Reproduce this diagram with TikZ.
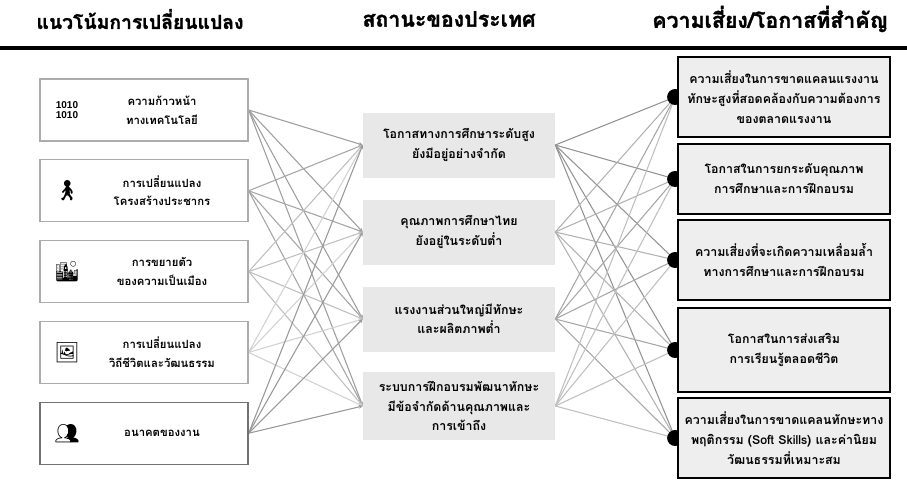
\documentclass[tikz,border=0pt]{standalone}
\usepackage{fontspec}
\setmainfont{Liberation Sans}
\newfontfamily\thaifont[Script=Thai]{Loma}
\newfontfamily\headfont[Script=Thai, BoldFeatures={FakeBold=1.5}]{Loma}
\newfontfamily\emojifont{Noto Emoji}
\usetikzlibrary{positioning, arrows.meta}
\pgfdeclarelayer{background}
\pgfsetlayers{background,main}

\begin{document}
\begin{tikzpicture}[x=0.75pt, y=-0.75pt, every node/.style={font=\thaifont\bfseries\fontsize{8.5}{14}\selectfont}]

  \tikzstyle{trend}=[draw=gray!65, line width=1pt, fill=white, minimum width=156pt, minimum height=46.5pt]
  \tikzstyle{state}=[fill=gray!18, minimum width=144pt, minimum height=48.75pt, align=center, font=\thaifont\bfseries\fontsize{9.3}{14.5}\selectfont]
  \tikzstyle{risk}=[draw=black, line width=1.3pt, fill=gray!13, minimum width=159pt, minimum height=60pt, align=center, font=\thaifont\bfseries\fontsize{9.3}{15}\selectfont]
  \tikzstyle{dot}=[circle, fill=black, minimum size=12pt, inner sep=0pt]
  \tikzstyle{icon}=[font=\emojifont\fontsize{15}{15}\selectfont]
  \tikzstyle{head}=[font=\headfont\bfseries\fontsize{16}{18}\selectfont]
  \tikzstyle{link}=[line width=0.8pt, -{Stealth[length=3pt, width=3pt]}]

  \useasboundingbox (0,0) rectangle (907,479);

  % headers
  \node [head, font=\headfont\bfseries\fontsize{14.5}{18}\selectfont] (h1) at (140,19) {แนวโน้มการเปลี่ยนแปลง};
  \node [head] (h2) at (449,19) {สถานะของประเทศ};
  \node [head] (h3) at (770,19) {ความเสี่ยง/โอกาสที่สำคัญ};
  \coordinate (rule-a) at (0,48);
  \coordinate (rule-b) at (907,48);
  \draw [line width=3pt] (rule-a) -- (rule-b);

  % trends
  \node [trend] (l1) at (144,110) {};
  \node [trend, below = 13.1pt of l1] (l2) {};
  \node [trend, below = 13.1pt of l2] (l3) {};
  \node [trend, below = 13.1pt of l3] (l4) {};
  \node [trend, below = 13.1pt of l4, draw=gray!90!black] (l5) {};

  \node [align=center] (t1) at ([xshift=13.5pt]l1.center) {ความก้าวหน้า\\ทางเทคโนโลยี};
  \node [align=center] (t2) at ([xshift=13.5pt]l2.center) {การเปลี่ยนแปลง\\โครงสร้างประชากร};
  \node [align=center] (t3) at ([xshift=13.5pt]l3.center) {การขยายตัว\\ของความเป็นเมือง};
  \node [align=center] (t4) at ([xshift=13.5pt]l4.center) {การเปลี่ยนแปลง\\วิถีชีวิตและวัฒนธรรม};
  \node [align=center] (t5) at ([xshift=13.5pt]l5.center) {อนาคตของงาน};

  \node [align=center, font=\bfseries\fontsize{7.5}{8}\selectfont] (i1) at ([xshift=-57.75pt]l1.center) {1010\\1010};
  \node [icon] (i2) at ([xshift=-57.75pt]l2.center) {🚶};
  \node [icon] (i3) at ([xshift=-57.75pt]l3.center) {🏙};
  \node [icon] (i4) at ([xshift=-57.75pt]l4.center) {🖼};
  \node [icon] (i5) at ([xshift=-57.75pt]l5.center) {👥};

  % country status
  \node [state] (m1) at (459,145) {โอกาสทางการศึกษาระดับสูง\\ยังมีอยู่อย่างจำกัด};
  \node [state] (m2) at (459,232) {คุณภาพการศึกษาไทย\\ยังอยู่ในระดับต่ำ};
  \node [state] (m3) at (459,319) {แรงงานส่วนใหญ่มีทักษะ\\และผลิตภาพต่ำ};
  \node [state, minimum height=51pt] (m4) at (459,406) {ระบบการฝึกอบรมพัฒนาทักษะ\\มีข้อจำกัดด้านคุณภาพและ\\การเข้าถึง};

  % risks and opportunities
  \node [risk] (r1) at (784,97) {ความเสี่ยงในการขาดแคลนแรงงาน\\ทักษะสูงที่สอดคล้องกับความต้องการ\\ของตลาดแรงงาน};
  \node [risk, minimum height=53pt] (r2) at (784,179) {โอกาสในการยกระดับคุณภาพ\\การศึกษาและการฝึกอบรม};
  \node [risk] (r3) at (784,260) {ความเสี่ยงที่จะเกิดความเหลื่อมล้ำ\\ทางการศึกษาและการฝึกอบรม};
  \node [risk, minimum height=63pt] (r4) at (784,350) {โอกาสในการส่งเสริม\\การเรียนรู้ตลอดชีวิต};
  \node [risk] (r5) at (784,438) {ความเสี่ยงในการขาดแคลนทักษะทาง\\พฤติกรรม (Soft Skills) และค่านิยม\\วัฒนธรรมที่เหมาะสม};

  \foreach \k in {1,...,5}
    \coordinate (d\k) at ([xshift=-1.5pt]r\k.west);

  \begin{pgfonlayer}{background}
    \foreach \i/\c in {1/75,2/70,3/50,4/35,5/80}
      \foreach \j in {1,...,4}
        \draw [link, draw=gray!\c, fill=gray!\c] (l\i.east) -- (m\j.west);
    \foreach \j/\c in {1/85,2/60,3/70,4/50}
      \foreach \k in {1,...,5}
        \draw [line width=0.8pt, gray!\c] (m\j.east) -- (d\k);
    \foreach \k in {1,...,5}
      \node [dot] (dot\k) at (d\k) {};
  \end{pgfonlayer}
\end{tikzpicture}
\end{document}
